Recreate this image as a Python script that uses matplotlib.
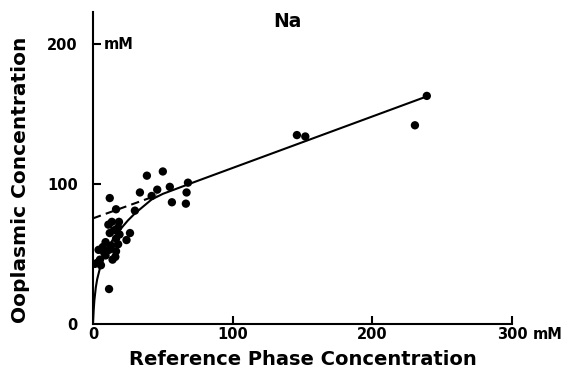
import matplotlib
matplotlib.use("Agg")
import matplotlib.pyplot as plt

# measured points (mM)
ref_conc = [1.4, 3.6, 5.7, 5, 8, 7, 9, 11.5, 13, 16, 14, 16.5, 18, 11.5,
            11, 13.5, 15, 12, 18, 19, 16.5, 12, 16.5, 24, 26.5, 30, 33.6,
            38.6, 42, 46, 50, 55, 56.5, 67, 68, 66.5, 18.6, 9, 4,
            146, 152, 230.5, 239]
ooplasm_conc = [43, 44, 42, 46, 51, 55, 49, 53, 56, 48, 46, 52, 57, 25,
                71, 73, 67, 65, 69, 64, 61, 90, 82, 60, 65, 81, 94,
                106, 91.5, 96, 109, 98, 87, 94, 101, 86, 73, 58.5, 53,
                135, 134, 142, 163]

# fitted curve
fit_x = [0, 0.5, 1, 2, 3, 5, 7, 10, 14, 19, 25, 30, 36, 42, 50, 70, 240]
fit_y = [0, 10, 17, 26, 32, 40, 46, 53, 60, 67, 74, 79, 84, 89, 93, 100.5, 163]

# linear part extrapolated to zero
dash_x = [0, 46]
dash_y = [75.5, 92]

font = "DejaVu Sans"

fig = plt.figure(figsize=(5.67, 3.85), dpi=100)
ax = fig.add_axes([0.164, 0.1584, 0.739, 0.8106])

ax.plot(fit_x, fit_y, color="black", lw=1.5, zorder=2)
ax.plot(dash_x, dash_y, color="black", lw=1.5, ls=(0, (4, 2.5)), zorder=2)
ax.scatter(ref_conc, ooplasm_conc, s=36, color="black", edgecolors="none", zorder=3)

ax.set_xlim(0, 300)
ax.set_ylim(0, 223)
ax.spines["top"].set_visible(False)
ax.spines["right"].set_visible(False)
ax.spines["left"].set_linewidth(1.5)
ax.spines["bottom"].set_linewidth(1.5)
ax.spines["bottom"].set_bounds(0, 300)

ax.set_xticks([0, 100, 200, 300])
ax.set_xticklabels(["0", "100", "200", "300"])
ax.set_yticks([0, 100, 200])
ax.set_yticklabels(["0", "100", "200"])
ax.tick_params(axis="x", direction="in", length=6, width=1.5, pad=2,
               labelsize=10.5)
ax.tick_params(axis="y", direction="in", length=6, width=1.5, pad=11,
               labelsize=10.5)
for lab in ax.get_xticklabels() + ax.get_yticklabels():
    lab.set_fontfamily(font)
    lab.set_fontweight("bold")
ax.xaxis.get_major_ticks()[0].tick1line.set_visible(False)
ax.yaxis.get_major_ticks()[0].tick1line.set_visible(False)

ax.text(315, -1.8, "mM", fontsize=10.5, family=font, fontweight="bold",
        ha="left", va="top")
ax.text(8, 200, "mM", fontsize=10.5, family=font, fontweight="bold",
        ha="left", va="center")
ax.text(139, 216, "Na", fontsize=13.5, family=font, fontweight="bold",
        ha="center", va="center")

ax.set_xlabel("Reference Phase Concentration", fontsize=14, family=font,
              fontweight="bold", labelpad=6)
ax.set_ylabel("Ooplasmic Concentration", fontsize=14.5, family=font,
              fontweight="bold")
ax.yaxis.set_label_coords(-0.150, 0.462)

fig.savefig("out.png", dpi=100)
